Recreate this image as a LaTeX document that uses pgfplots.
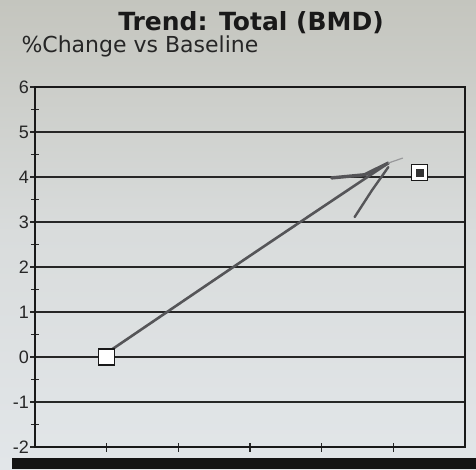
\documentclass[border=0pt]{standalone}
\usepackage{pgfplots}
\pgfplotsset{compat=1.18}
\usepackage{fontspec}
\setmainfont{Liberation Sans}
\newfontfamily\titlefont{DejaVu Sans}
\definecolor{papertop}{RGB}{196,197,190}
\definecolor{paperbot}{RGB}{226,230,233}
\definecolor{pen}{RGB}{85,85,88}
\begin{document}
\begin{tikzpicture}[x=1pt,y=1pt]
\shade[top color=papertop, bottom color=paperbot, middle color=paperbot!70!papertop, shading angle=0] (-35,-22) rectangle (441,447);
\fill[black!92] (-23,-22) rectangle (441,-11);
\begin{axis}[
  at={(0,0)}, anchor=south west,
  scale only axis, width=430pt, height=360pt,
  xmin=0, xmax=6, ymin=-2, ymax=6,
  xtick={1,2,3,4,5}, xticklabels={},
  ytick={-2,-1,0,1,2,3,4,5,6},
  yticklabels={-2,-1,0,1,2,3,4,5,6},
  minor y tick num=1,
  xtick pos=bottom, ytick pos=left,
  tick align=center,
  major tick length=9pt, minor tick length=8pt,
  every tick/.style={black!85, line width=1.1pt},
  ymajorgrids,
  major grid style={black!85, line width=1.2pt},
  axis line style={black!90, line width=1.3pt},
  yticklabel style={font=\fontsize{18}{18}\selectfont, text=black!85, xshift=2pt},
  clip=false,
]
\addplot[only marks, mark=square*, mark size=8pt, mark options={fill=white, draw=black!90, line width=1.2pt}] coordinates {(1,0) (5.37,4.1)};
\addplot[only marks, mark=square*, mark size=3.3pt, mark options={fill=black!80, draw=black!80}] coordinates {(5.37,4.1)};
\addplot[pen, line width=2.6pt, line cap=round, smooth] coordinates {(1.02,0.11) (3.0,2.25) (4.93,4.31)};
\addplot[pen, line width=3.4pt, line cap=round] coordinates {(4.14,3.98) (4.6,4.05) (4.93,4.31)};
\addplot[pen, line width=2.4pt, line cap=round] coordinates {(4.46,3.11) (4.7,3.7) (4.93,4.22)};
\addplot[pen!60, line width=1.2pt, line cap=round] coordinates {(4.93,4.31) (5.13,4.42)};
\end{axis}
\node[font=\titlefont\bfseries\fontsize{25}{25}\selectfont, text=black!90] at (216,424) {Trend: Total (BMD)};
\node[font=\titlefont\fontsize{22}{22}\selectfont, text=black!85, anchor=west] at (-17,401) {\%Change vs Baseline};
\end{tikzpicture}
\end{document}
